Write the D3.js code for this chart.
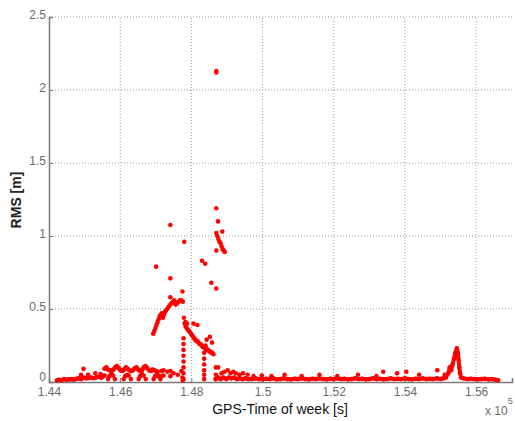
<!DOCTYPE html>
<html>
<head>
<meta charset="utf-8">
<script src="https://cdn.jsdelivr.net/npm/d3@7"></script>
<style>
    body { margin: 0; background: #fff; }
    svg { display: block; font-family: 'Liberation Sans', Arial, sans-serif; }
</style>
</head>
<body>
<svg id="chart"></svg>
<script>
// time in units of 1e5 s, RMS in m
const xTicks = [1.44, 1.46, 1.48, 1.5, 1.52, 1.54, 1.56];
const yTicks = [0, 0.5, 1, 1.5, 2, 2.5];

const lowBand = [[1.4422,.01],[1.4428,.015],[1.4435,.012],[1.4442,.02],[1.4449,.015],[1.4456,.018],[1.4463,.02],[1.4470,.016],[1.4477,.022],[1.4484,.025],[1.4491,.02],[1.4498,.03],[1.4505,.025],[1.4512,.028],[1.4519,.03],[1.4526,.026],[1.4533,.032],[1.4540,.035],[1.4547,.03],[1.4552,.04],[1.4556,.045]];

const upperBand = [[1.4556,.09],[1.4561,.1],[1.4566,.085],[1.4571,.08],[1.4576,.075],[1.4581,.085],[1.4586,.1],[1.4591,.11],[1.4596,.095],[1.4601,.08],[1.4606,.075],[1.4611,.085],[1.4616,.1],[1.4621,.09],[1.4626,.08],[1.4631,.075],[1.4636,.08],[1.4641,.095],[1.4646,.1],[1.4651,.085],[1.4656,.075],[1.4661,.08],[1.4666,.1],[1.4671,.11],[1.4676,.095],[1.4681,.08],[1.4686,.075],[1.4691,.085],[1.4696,.08],[1.4701,.075],[1.4706,.07]];

const tailBand = [[1.4868,.02],[1.4875,.03],[1.4882,.02],[1.4890,.03],[1.4898,.02],[1.4905,.03],[1.4912,.025],[1.4920,.03],[1.4928,.02],[1.4936,.025],[1.4944,.02],[1.4952,.025],[1.4960,.02],[1.4970,.02],[1.4980,.025],[1.4990,.02],[1.5000,.018],[1.5010,.022],[1.5020,.02],[1.5030,.025],[1.5040,.018],[1.5050,.02],[1.5060,.025],[1.5070,.02],[1.5080,.018],[1.5090,.022],[1.5100,.02],[1.5110,.025],[1.5120,.02],[1.5130,.018],[1.5140,.022],[1.5150,.02],[1.5160,.025],[1.5170,.02],[1.5180,.018],[1.5190,.022],[1.5200,.02],[1.5210,.025],[1.5220,.02],[1.5230,.022],[1.5240,.018],[1.5250,.02],[1.5260,.025],[1.5270,.02],[1.5280,.022],[1.5290,.018],[1.5300,.02],[1.5310,.025],[1.5320,.02],[1.5330,.022],[1.5340,.018],[1.5350,.02],[1.5360,.025],[1.5370,.02],[1.5380,.022],[1.5390,.02],[1.5400,.025],[1.5410,.02],[1.5420,.018],[1.5430,.022],[1.5440,.02],[1.5450,.025],[1.5460,.02],[1.5470,.022],[1.5480,.02],[1.5490,.025],[1.5500,.02],[1.5508,.025],[1.5515,.03],[1.5522,.06],[1.5526,.1],[1.5530,.08],[1.5534,.12],[1.5538,.16],[1.5542,.2],[1.5546,.23],[1.5549,.2],[1.5551,.15],[1.5553,.1],[1.5555,.06],[1.5558,.03],[1.5565,.025],[1.5575,.02],[1.5585,.022],[1.5595,.02],[1.5605,.018],[1.5615,.02],[1.5625,.022],[1.5635,.018],[1.5645,.02],[1.5655,.015],[1.5662,.012]];

const spikes = [[1.4490,.05],[1.4497,.09],[1.4510,.05],[1.4530,.06],[1.4545,.055],[1.4875,.10],[1.4885,.06],[1.4893,.07],[1.4902,.08],[1.4910,.06],[1.4918,.07],[1.4925,.06],[1.4935,.05],[1.4945,.06],[1.4958,.05],[1.4975,.04],[1.4998,.045],[1.5025,.04],[1.5062,.05],[1.5110,.04],[1.5160,.05],[1.5210,.04],[1.5268,.05],[1.5320,.04],[1.5339,.07],[1.5378,.06],[1.5404,.07],[1.5440,.05],[1.5491,.08],[1.5512,.05]];

const scallops = [[1.4566,.02],[1.4570,.04],[1.4575,.055],[1.4580,.045],[1.4585,.02],[1.4610,.02],[1.4614,.04],[1.4619,.05],[1.4624,.045],[1.4630,.02],[1.4652,.02],[1.4656,.04],[1.4661,.055],[1.4666,.045],[1.4672,.02],[1.4694,.02],[1.4698,.04],[1.4703,.05],[1.4708,.04],[1.4713,.02],[1.4716,.075],[1.4716,.04],[1.4722,.08],[1.4722,.045],[1.4733,.07],[1.4741,.075],[1.4741,.04],[1.4750,.06],[1.4762,.05],[1.4772,.075],[1.4775,.03],[1.4776,.01]];

const rising = [[1.4693,.33],[1.4696,.35],[1.4699,.37],[1.4702,.39],[1.4705,.41],[1.4708,.43],[1.4711,.45],[1.4714,.46],[1.4717,.47],[1.4720,.44],[1.4723,.46],[1.4726,.48],[1.4729,.49],[1.4732,.50],[1.4735,.51],[1.4738,.52],[1.4741,.53],[1.4745,.54],[1.4748,.55],[1.4752,.56],[1.4756,.53],[1.4760,.54],[1.4764,.55],[1.4768,.56],[1.4772,.56],[1.4776,.55]];

const falling = [[1.4779,.44],[1.4781,.40],[1.4784,.38],[1.4787,.37],[1.4790,.36],[1.4793,.35],[1.4796,.34],[1.4799,.33],[1.4802,.32],[1.4805,.31],[1.4808,.30],[1.4811,.29],[1.4814,.28],[1.4817,.28],[1.4820,.27],[1.4823,.26],[1.4826,.26],[1.4829,.25],[1.4832,.24],[1.4835,.24],[1.4838,.23],[1.4841,.23],[1.4844,.22],[1.4847,.22],[1.4850,.21],[1.4853,.21],[1.4856,.20],[1.4859,.20],[1.4862,.19]];

const fallingHigh = [[1.4870,1.02],[1.4873,1.00],[1.4876,.98],[1.4879,.96],[1.4882,.95],[1.4885,.93],[1.4888,.91],[1.4891,.90],[1.4894,.89]];

const columns = [[1.4778,.30],[1.4778,.26],[1.4778,.22],[1.4778,.18],[1.4778,.14],[1.4778,.10],[1.4778,.06],[1.4778,.02],[1.4836,.24],[1.4836,.20],[1.4836,.16],[1.4836,.12],[1.4836,.08],[1.4836,.05],[1.4836,.02],[1.4869,.10],[1.4869,.05],[1.4869,.02]];

const outliers = [[1.4741,1.075],[1.4780,.96],[1.4701,.79],[1.4741,.71],[1.4741,.58],[1.4775,.62],[1.4870,1.19],[1.4875,1.10],[1.4887,1.03],[1.4870,.90],[1.4830,.83],[1.4839,.81],[1.4856,.68],[1.4870,.64],[1.4870,2.13],[1.4870,2.12],[1.4783,.41],[1.4788,.40],[1.4806,.40],[1.4817,.39],[1.4843,.29],[1.4840,.25],[1.4852,.31],[1.4858,.27]];

const width = 515;
const height = 421;
const margin = { top: 17, right: 3, bottom: 39, left: 49 };

const x = d3.scaleLinear()
    .domain([1.44, 1.5701])
    .range([margin.left, width - margin.right]);

const y = d3.scaleLinear()
    .domain([0, 2.5])
    .range([height - margin.bottom, margin.top]);

const svg = d3.select('#chart')
    .attr('width', width)
    .attr('height', height);

// grid
svg.append('g')
    .selectAll('line')
    .data(xTicks.slice(1))
    .join('line')
        .attr('x1', d => x(d)).attr('x2', d => x(d))
        .attr('y1', y(0)).attr('y2', y(2.5))
        .attr('stroke', '#9a9a9a')
        .attr('stroke-dasharray', '1,2');

svg.append('g')
    .selectAll('line')
    .data(yTicks.slice(1))
    .join('line')
        .attr('x1', x(1.44)).attr('x2', width - margin.right)
        .attr('y1', d => y(d)).attr('y2', d => y(d))
        .attr('stroke', '#9a9a9a')
        .attr('stroke-dasharray', '1,2');

// axes
const xAxis = svg.append('g')
    .attr('transform', `translate(0,${y(0)})`)
    .call(d3.axisBottom(x).tickValues(xTicks).tickSize(-4).tickPadding(5).tickFormat(d3.format('')));

const yAxis = svg.append('g')
    .attr('transform', `translate(${x(1.44)},0)`)
    .call(d3.axisLeft(y).tickValues(yTicks).tickSize(-4).tickPadding(3).tickFormat(d3.format('')));

[xAxis, yAxis].forEach(g => {
    g.select('.domain').attr('stroke', '#7a7a7a').attr('stroke-width', 1.5);
    g.selectAll('.tick line').attr('stroke', '#7a7a7a');
    g.selectAll('.tick text')
        .attr('fill', '#6a6a6a')
        .style('font-size', '12px');
});
// y labels sit a little above their ticks, as in the original
yAxis.selectAll('.tick text').attr('dy', d => d === 0 ? '-0.1em' : '0.1em');

// data
const plot = svg.append('g');
const line = d3.line().x(d => x(d[0])).y(d => y(d[1]));

[lowBand, upperBand, tailBand].forEach(band => {
    plot.append('path')
        .datum(band)
        .attr('fill', 'none')
        .attr('stroke', '#ff0000')
        .attr('stroke-width', 4)
        .attr('stroke-linejoin', 'round')
        .attr('d', line);
});

const dots = [].concat(lowBand, upperBand, tailBand, spikes, scallops, rising, falling, fallingHigh, columns, outliers);

plot.selectAll('circle')
    .data(dots)
    .join('circle')
        .attr('cx', d => x(d[0]))
        .attr('cy', d => y(d[1]))
        .attr('r', 2.3)
        .attr('fill', '#ff0000');

// labels
svg.append('text')
    .attr('x', 280)
    .attr('y', 414)
    .attr('text-anchor', 'middle')
    .style('font-size', '14px')
    .attr('fill', '#111')
    .text('GPS-Time of week [s]');

svg.append('text')
    .attr('transform', 'translate(21,200) rotate(-90)')
    .attr('text-anchor', 'middle')
    .style('font-size', '14px')
    .style('font-weight', 'bold')
    .attr('fill', '#222')
    .text('RMS [m]');

const exp = svg.append('text')
    .attr('x', 485)
    .attr('y', 415)
    .style('font-size', '12px')
    .attr('fill', '#6a6a6a');
exp.append('tspan').text('x 10');
exp.append('tspan').attr('dy', -11).style('font-size', '9px').text('5');
</script>
</body>
</html>
